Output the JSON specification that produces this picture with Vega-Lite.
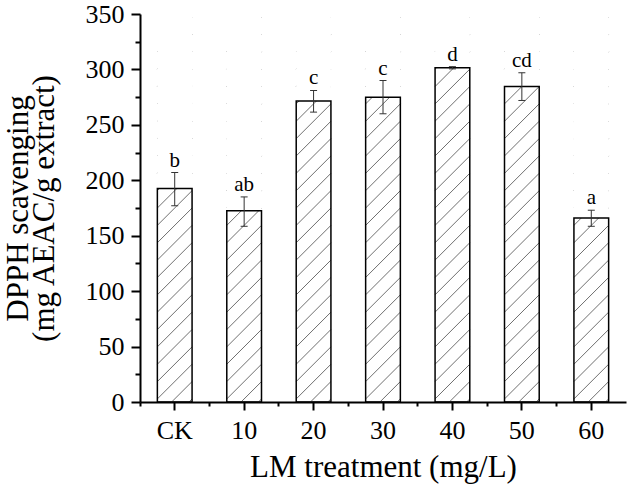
{
  "$schema": "https://vega.github.io/schema/vega-lite/v6.json",
  "width": 486,
  "height": 388,
  "autosize": "none",
  "padding": {"left": 140, "top": 14, "right": 3, "bottom": 96},
  "background": "white",
  "config": {
    "font": "Liberation Serif",
    "view": {"stroke": null},
    "axis": {
      "grid": false,
      "domainColor": "black",
      "tickColor": "black",
      "labelColor": "black",
      "titleColor": "black",
      "labelFont": "Liberation Serif",
      "titleFont": "Liberation Serif",
      "titleFontWeight": "normal",
      "labelFontWeight": "normal"
    }
  },
  "data": {
    "values": [
      {"group": "CK", "value": 192.5, "lo": 177, "hi": 207, "letter": "b"},
      {"group": "10", "value": 172.5, "lo": 158.5, "hi": 185, "letter": "ab"},
      {"group": "20", "value": 271.5, "lo": 261.5, "hi": 281, "letter": "c"},
      {"group": "30", "value": 275, "lo": 260, "hi": 290, "letter": "c"},
      {"group": "40", "value": 301.5, "lo": 300.5, "hi": 302.5, "letter": "d"},
      {"group": "50", "value": 284.5, "lo": 272, "hi": 297, "letter": "cd"},
      {"group": "60", "value": 166, "lo": 158.5, "hi": 173, "letter": "a"}
    ]
  },
  "layer": [
    {
      "mark": {
        "type": "point",
        "shape": "M -1 -9 L 1 -11 M -1 -8 L 1 -10 M -1 -7 L 1 -9 M -1 -6 L 1 -8 M -1 -5 L 1 -7 M -1 -4 L 1 -6 M -1 -3 L 1 -5 M -1 -2 L 1 -4 M -1 -1 L 1 -3 M -1 0 L 1 -2 M -1 1 L 1 -1 M -1 2 L 1 0 M -1 3 L 1 1 M -1 4 L 1 2 M -1 5 L 1 3 M -1 6 L 1 4 M -1 7 L 1 5 M -1 8 L 1 6 M -1 9 L 1 7 M -1 10 L 1 8 M -1 11 L 1 9 M -0.18 11.18 L 1 10 M 0.82 11.18 L 1 11",
        "size": 1205,
        "filled": false,
        "stroke": "#4a4a4a",
        "strokeWidth": 0.8,
        "opacity": 1
      },
      "encoding": {
        "x": {
          "field": "group", "type": "nominal", "sort": null,
          "scale": {"paddingInner": 0.5, "paddingOuter": 0.25},
          "axis": {
            "orient": "bottom",
            "title": "LM treatment (mg/L)",
            "titleFontSize": 31,
            "titlePadding": 9,
            "labelFontSize": 26,
            "labelAngle": 0,
            "labelPadding": 7,
            "tickSize": 8,
            "tickWidth": 2,
            "domainWidth": 2
          }
        },
        "y": {"datum": 175, "type": "quantitative", "scale": {"domain": [0, 350], "nice": false}, "axis": null}
      }
    },
    {
      "mark": {"type": "bar", "fill": "white", "strokeWidth": 0},
      "encoding": {
        "x": {"field": "group", "type": "nominal", "sort": null, "axis": null},
        "y": {
          "field": "value", "type": "quantitative",
          "axis": {
            "orient": "left",
            "values": [25, 75, 125, 175, 225, 275, 325],
            "labels": false,
            "domain": false,
            "title": null,
            "tickSize": 5,
            "tickWidth": 2
          }
        },
        "y2": {"datum": 350}
      }
    },
    {
      "mark": {"type": "bar", "fill": "transparent", "stroke": "black", "strokeWidth": 1.5},
      "encoding": {
        "x": {
          "field": "group", "type": "nominal", "sort": null,
          "axis": {
            "orient": "bottom",
            "bandPosition": -0.5,
            "labels": false,
            "title": null,
            "domain": false,
            "tickSize": 4,
            "tickWidth": 2
          }
        },
        "y": {
          "field": "value", "type": "quantitative",
          "axis": {
            "orient": "left",
            "values": [0, 50, 100, 150, 200, 250, 300, 350],
            "tickSize": 9,
            "labelFontSize": 26,
            "labelPadding": 7,
            "tickWidth": 2,
            "domainWidth": 2,
            "title": ["DPPH scavenging", "(mg AEAC/g extract)"],
            "titleFontSize": 31,
            "titleLineHeight": 26,
            "titlePadding": 25
          }
        }
      }
    },
    {
      "mark": {"type": "rule", "stroke": "#333333", "strokeWidth": 1},
      "encoding": {
        "x": {"field": "group", "type": "nominal", "sort": null, "axis": null},
        "y": {"field": "lo", "type": "quantitative", "axis": null},
        "y2": {"field": "hi"}
      }
    },
    {
      "mark": {"type": "tick", "size": 7, "thickness": 1, "color": "#333333", "opacity": 1},
      "encoding": {
        "x": {"field": "group", "type": "nominal", "sort": null, "axis": null},
        "y": {"field": "lo", "type": "quantitative", "axis": null}
      }
    },
    {
      "mark": {"type": "tick", "size": 7, "thickness": 1, "color": "#333333", "opacity": 1},
      "encoding": {
        "x": {"field": "group", "type": "nominal", "sort": null, "axis": null},
        "y": {"field": "hi", "type": "quantitative", "axis": null}
      }
    },
    {
      "mark": {"type": "text", "fontSize": 21, "dy": -6, "baseline": "alphabetic", "font": "Liberation Serif", "color": "black"},
      "encoding": {
        "x": {"field": "group", "type": "nominal", "sort": null, "axis": null},
        "y": {"field": "hi", "type": "quantitative", "axis": null},
        "text": {"field": "letter"}
      }
    }
  ],
  "resolve": {"axis": {"x": "independent", "y": "independent"}}
}
